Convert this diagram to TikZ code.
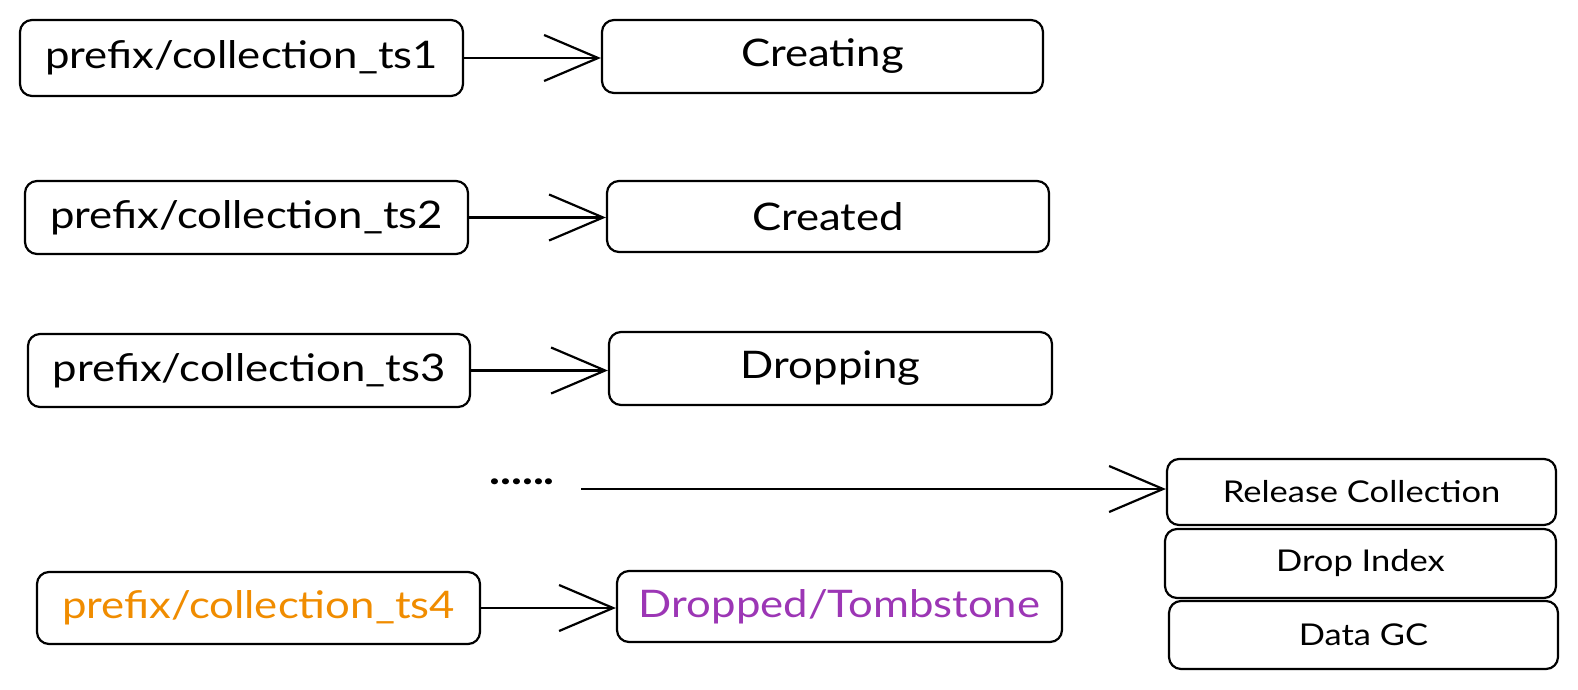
\documentclass[tikz,border=0pt]{standalone}
\usepackage{fontspec}
\setmainfont{Lato}[FakeStretch=1.15]
\usetikzlibrary{arrows.meta}
\definecolor{exorange}{HTML}{F08C00}
\definecolor{expurple}{HTML}{9C36B5}
\tikzset{
  box/.style={draw=black, line width=2.2pt, rounded corners=12pt, inner sep=0pt, font=\fontsize{38}{44}\selectfont},
  smallbox/.style={box, font=\fontsize{30}{34}\selectfont},
  arr/.style={line width=2.4pt, -{Straight Barb[length=54pt, width=46pt, line width=2.2pt]}},
}
\begin{document}
\begin{tikzpicture}[x=1pt,y=-1pt]
\useasboundingbox (0,0) rectangle (1578,690);
\node[box, minimum width=443pt, minimum height=76pt] (k1) at (241.5,58) {prefix/collection\_ts1};
\node[box, minimum width=441pt, minimum height=73pt] (s1) at (822.5,56.5) {Creating};
\node[box, minimum width=443pt, minimum height=73pt] (k2) at (246.5,217.5) {prefix/collection\_ts2};
\node[box, minimum width=442pt, minimum height=71pt] (s2) at (828,216.5) {Created};
\node[box, minimum width=442pt, minimum height=73pt] (k3) at (249,370.5) {prefix/collection\_ts3};
\node[box, minimum width=443pt, minimum height=73pt] (s3) at (830.5,368.5) {Dropping};
\node[box, minimum width=443pt, minimum height=72pt, text=exorange] (k4) at (258.5,608) {prefix/collection\_ts4};
\node[box, minimum width=445pt, minimum height=71pt, text=expurple] (s4) at (839.5,606.5) {Dropped/Tombstone};
\node[font=\fontsize{40}{44}\bfseries, inner sep=0pt] (dots) at (522,482) {......};
\node[smallbox, minimum width=389pt, minimum height=66pt] (rc) at (1361.5,492) {Release Collection};
\node[smallbox, minimum width=391pt, minimum height=69pt] (di) at (1360.5,563.5) {Drop Index};
\node[smallbox, minimum width=389pt, minimum height=68pt] (gc) at (1363.5,635) {Data GC};
\draw[arr] (k1.east) -- (s1.west |- k1.east);
\draw[arr] (k2.east) -- (s2.west |- k2.east);
\draw[arr] (k3.east) -- (s3.west |- k3.east);
\draw[arr] (k4.east) -- (s4.west |- k4.east);
\coordinate (ls) at (581,489);
\draw[arr] (ls) -- (rc.west |- ls);
\end{tikzpicture}
\end{document}
